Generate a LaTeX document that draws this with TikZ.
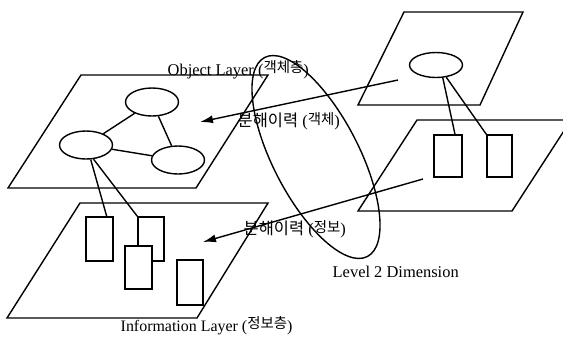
\documentclass[tikz,border=0pt]{standalone}
\usepackage{fontspec}
\setmainfont{Liberation Serif}
\newfontfamily\kr{Noto Sans CJK KR}
\usetikzlibrary{arrows.meta,shapes.geometric,calc}

% Korean glyphs: full size and a smaller raised variant used inside brackets
\newcommand{\krbig}[1]{{\kr\fontsize{16.5}{17}\selectfont #1}}
\newcommand{\krsm}[2][3bp]{\raisebox{#1}{\kr\fontsize{14.5}{15}\selectfont #2}}

\begin{document}
\begin{tikzpicture}[x=1bp,y=-1bp,line width=1.4bp,
  plane/.style={draw,line join=miter},
  obj/.style={draw,ellipse,inner sep=0pt,minimum width=53bp,minimum height=28bp},
  info/.style={draw,fill=white,rectangle,inner sep=0pt,minimum width=27bp,minimum height=44bp},
  link/.style={draw},
  flow/.style={-{Latex[length=13bp,width=8bp]}},
  lbl/.style={anchor=base west,inner sep=0pt,font=\fontsize{16.5}{18}\selectfont},
]
\useasboundingbox (0,0) rectangle (563,338);
\clip (0,0) rectangle (563,338);

% ---- planes ----
\draw[plane] (81,75) -- (268,75) -- (196,188) -- (8,188) -- cycle;     % object layer
\draw[plane] (80,203) -- (268,203) -- (197,318) -- (7,318) -- cycle;   % information layer
\draw[plane] (404,12) -- (523,12) -- (480,105) -- (358,105) -- cycle;  % object layer, level 2
\draw[plane] (417,120) -- (571,120) -- (512,211) -- (358,211) -- cycle;% information layer, level 2

% ---- objects ----
\node[obj] (oa) at (152,102) {};
\node[obj] (ob) at (86,145) {};
\node[obj] (oc) at (178,160) {};
\node[obj,minimum height=25bp] (od) at (436,65) {};

\draw[link] (oa) -- (ob);
\draw[link] (oa) -- (oc);
\draw[link] (ob) -- (oc);

% ---- information items ----
\node[info] (r1) at (99.5,239) {};
\node[info,minimum width=26bp] (r2) at (151,239) {};
\draw[link] (ob.-72) -- ($(r1.north east)+(-7,0)$);
\draw[link] (ob.-62) -- (r2.north west);
\node[info,minimum height=43bp] (r3) at (138.5,267.5) {};
\node[info,minimum width=26bp,minimum height=45bp] (r4) at (190,282.5) {};

\node[info,minimum width=28bp,minimum height=42bp] (r5) at (448,156) {};
\node[info,minimum width=25bp,minimum height=42bp] (r6) at (499.5,156) {};
\draw[link] (od.-62) -- ($(r5.north)+(7,0)$);
\draw[link] (od.-50) -- (r6.north west);

% ---- level 2 dimension ----
\draw[rotate around={-62.7:(316,157)}] (316,157) ellipse [x radius=112bp,y radius=43bp];

% ---- decomposition arrows ----
\coordinate (s1) at (398,80);
\coordinate (e1) at (200,122);
\coordinate (s2) at (423,179);
\coordinate (e2) at (203,242);
\draw[flow] (s1) -- (e1);
\draw[flow] (s2) -- (e2);

% ---- labels ----
\node[lbl] (tobj) at (167,75) {Object Layer (\krsm{객체층})};
\node[lbl] (tarr1) at (237,126) {\krbig{분해이력} (\krsm[1.5bp]{객체})};
\node[lbl] (tarr2) at (243,234) {\krbig{분해이력} (\krsm[1.5bp]{정보})};
\node[lbl] (tlvl) at (332,277) {Level 2 Dimension};
\node[lbl,font=\fontsize{16}{18}\selectfont] (tinf) at (120,331) {Information Layer (\krsm{정보층})};
\end{tikzpicture}
\end{document}
